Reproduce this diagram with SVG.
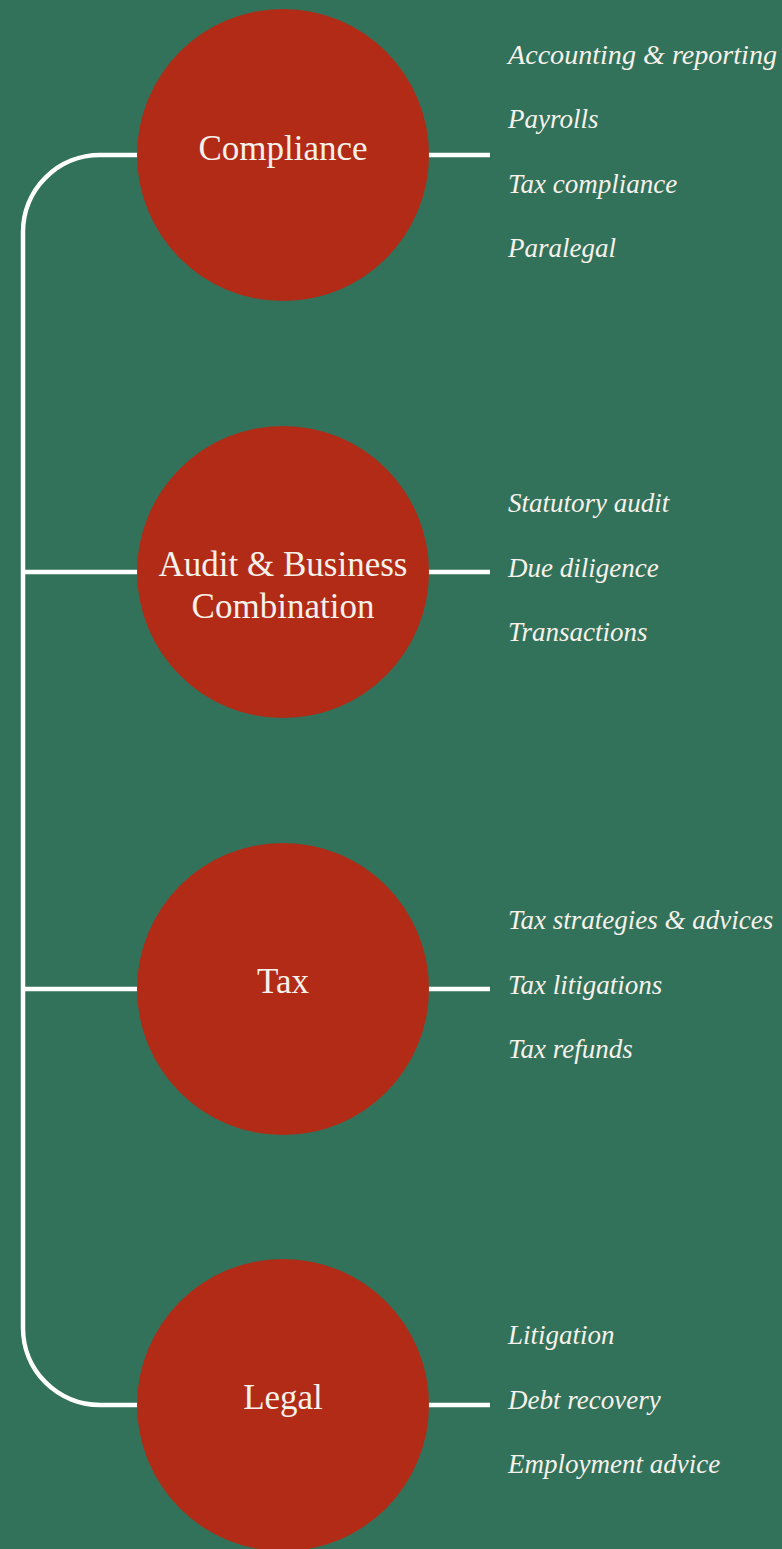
<svg xmlns="http://www.w3.org/2000/svg" width="782" height="1549" viewBox="0 0 782 1549">
<style>
.bg{fill:#33725A}
.line{fill:none;stroke:#FFFFFF;stroke-width:4.5}
.circ{fill:#B12B16}
.lbl{font-family:"Liberation Serif",serif;font-size:35px;fill:#F6F1EA;text-anchor:middle}
.item{font-family:"Liberation Serif",serif;font-style:italic;font-size:27px;fill:#F6F1EA}
</style>
<rect class="bg" x="0" y="0" width="782" height="1549"/>
<g id="connectors">
<path class="line" d="M140,155 H100 A77,77 0 0 0 23,232 V1328 A77,77 0 0 0 100,1405 H140"/>
<path class="line" d="M23,572 H140"/>
<path class="line" d="M23,989 H140"/>
<path class="line" d="M425,155 H490"/>
<path class="line" d="M425,572 H490"/>
<path class="line" d="M425,989 H490"/>
<path class="line" d="M425,1405 H490"/>
</g>
<g id="compliance">
<circle class="circ" cx="283" cy="155" r="146"/>
<text class="lbl" x="283" y="160">Compliance</text>
<text class="item" x="508" y="64" textLength="269" lengthAdjust="spacingAndGlyphs">Accounting &amp; reporting</text>
<text class="item" x="508" y="128">Payrolls</text>
<text class="item" x="508" y="193">Tax compliance</text>
<text class="item" x="508" y="257">Paralegal</text>
</g>
<g id="audit">
<circle class="circ" cx="283" cy="572" r="146"/>
<text class="lbl" x="283" y="576">Audit &amp; Business</text>
<text class="lbl" x="283" y="618">Combination</text>
<text class="item" x="508" y="512">Statutory audit</text>
<text class="item" x="508" y="577">Due diligence</text>
<text class="item" x="508" y="641">Transactions</text>
</g>
<g id="tax">
<circle class="circ" cx="283" cy="989" r="146"/>
<text class="lbl" x="283" y="993">Tax</text>
<text class="item" x="508" y="929">Tax strategies &amp; advices</text>
<text class="item" x="508" y="994">Tax litigations</text>
<text class="item" x="508" y="1058">Tax refunds</text>
</g>
<g id="legal">
<circle class="circ" cx="283" cy="1405" r="146"/>
<text class="lbl" x="283" y="1409">Legal</text>
<text class="item" x="508" y="1344">Litigation</text>
<text class="item" x="508" y="1409">Debt recovery</text>
<text class="item" x="508" y="1473">Employment advice</text>
</g>
</svg>
